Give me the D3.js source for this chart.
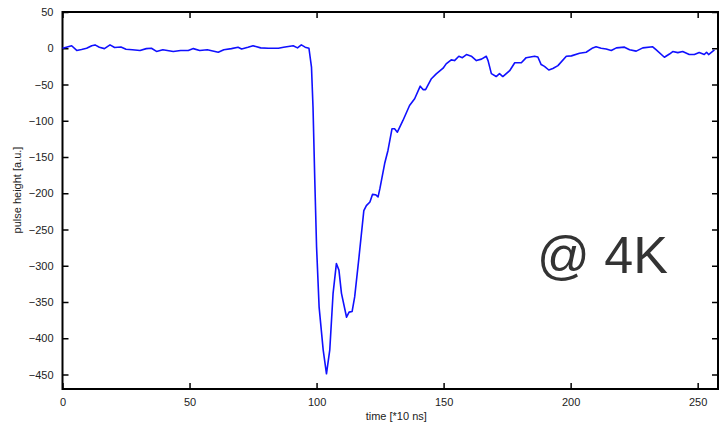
<!DOCTYPE html>
<html>
<head>
<meta charset="utf-8">
<script src="https://cdn.jsdelivr.net/npm/d3@7"></script>
<style>
  body { margin: 0; background: #fff; }
  text { font-family: "Liberation Sans", Arial, sans-serif; }
</style>
</head>
<body>
<div id="chart"></div>
<script>
// data (time in units of 10 ns)
var time = [0, 1.5, 3.6, 5.6, 7.5, 9.5, 11.5, 12.8, 14.5, 16.5, 18.7, 20.5, 23, 25, 27.5, 30.5, 33, 35, 37, 39.5,
  43.6, 46.5, 49.5, 51.5, 54, 57, 61.3, 63.5, 66.5, 69.1, 70.5, 73, 75, 78, 81, 85, 87, 90.8, 92.5, 94,
  95.5, 97, 98, 98.6, 99.3, 100, 101, 102.6, 103.9, 105.2, 106.5, 107.8, 108.8, 109.8, 111.8, 112.8, 114, 115, 116.7, 118.6,
  119.6, 121, 122, 123.2, 124.2, 124.9, 126.8, 128.1, 129.7, 130.7, 131.8, 134, 136.6, 138.6, 140.8, 141.9, 142.9, 145.2, 147.1, 149.8,
  151, 153, 154.3, 156, 157.4, 159, 160.9, 162.9, 164.9, 166.8, 167.5, 168.8, 170.7, 172, 173.3, 176, 178, 180.6, 182.5, 185.8,
  187.1, 188.4, 189.7, 191.4, 193, 195, 198.3, 200.3, 203.5, 206.1, 208.7, 210, 212, 214, 216, 218, 221.2, 223.2, 225.8, 228.4,
  232.3, 233.6, 236.9, 238.9, 240.2, 242.2, 244.1, 246.7, 248.7, 250.6, 252.6, 253.5, 254.3, 256.6]
var pulse = [0, 1.4, 3.5, -3, -1.8, 0, 3.5, 4.6, 1.4, -0.5, 4.6, 1, 1.8, -1.3, -2, -3, -0.5, 0, -4.4, -2,
  -4.4, -3, -3, -0.5, -3, -2, -5.5, -2, -0.5, 1.4, -1, 1.4, 3.5, 0.5, 0, 0, 1.4, 3.5, 0.5, 4.6,
  1.5, 0, -26, -81, -182, -274, -357, -416, -449, -416, -338, -297, -306, -338, -371, -364, -363, -343, -288, -224,
  -217, -212, -201.6, -202, -205, -194, -159, -141, -111, -111, -115.7, -99.6, -79, -69.7, -52.3, -57, -57, -42, -35.3, -27.5,
  -21.5, -16, -17, -11, -13, -8.7, -11, -17, -15, -11, -17, -35, -39, -35, -39, -31, -20, -20, -13, -11,
  -12, -22.5, -25, -30, -28, -24, -11, -10.5, -7, -5.5, 0.5, 2, 0, -1, -3, 0.5, 1.5, -2, -4, 0.5,
  2, -2, -12.4, -8, -4.5, -6, -4.5, -8.7, -8.7, -6, -8.7, -5.5, -8.7, -2.3]

var xTicks = [0, 50, 100, 150, 200, 250]
var yTicks = [50, 0, -50, -100, -150, -200, -250, -300, -350, -400, -450]
var xLabel = "time [*10 ns]"
var yLabel = "pulse height [a.u.]"
var note = "@ 4K"

// layout
const W = 720, H = 425
const margin = {top: 12, right: 2, bottom: 36, left: 62.5},
    width = W - margin.left - margin.right,
    height = H - margin.top - margin.bottom

var svg = d3.select("#chart")
  .append("svg")
    .attr("width", W)
    .attr("height", H)

var g = svg.append("g")
  .attr("transform", "translate(" + margin.left + "," + margin.top + ")")

var x = d3.scaleLinear().domain([0, 258]).range([0, width])
var y = d3.scaleLinear().domain([-470, 50]).range([height, 0])

// inward ticks on all four sides
function styleAxis(sel) {
  sel.select(".domain").remove()
  sel.selectAll(".tick line").attr("stroke", "#000").attr("stroke-width", 1.5)
  sel.selectAll(".tick text").attr("fill", "#222").style("font-size", "11px")
}

g.append("g")
  .attr("transform", "translate(0," + height + ")")
  .call(d3.axisBottom(x).tickValues(xTicks).tickSizeInner(-6).tickSizeOuter(0).tickPadding(9))
  .call(styleAxis)

g.append("g")
  .call(d3.axisTop(x).tickValues(xTicks).tickSizeInner(-6).tickSizeOuter(0).tickFormat(""))
  .call(styleAxis)

g.append("g")
  .call(d3.axisLeft(y).tickValues(yTicks).tickSizeInner(-6).tickSizeOuter(0).tickPadding(9))
  .call(styleAxis)

g.append("g")
  .attr("transform", "translate(" + width + ",0)")
  .call(d3.axisRight(y).tickValues(yTicks).tickSizeInner(-6).tickSizeOuter(0).tickFormat(""))
  .call(styleAxis)

// frame
g.append("rect")
  .attr("width", width)
  .attr("height", height)
  .attr("fill", "none")
  .attr("stroke", "#000")
  .attr("stroke-width", 2)

// trace
var line = d3.line()
  .x(function(d, i) { return x(time[i]) })
  .y(function(d) { return y(d) })

g.append("path")
  .datum(pulse)
  .attr("d", line)
  .attr("fill", "none")
  .attr("stroke", "#1010ff")
  .attr("stroke-width", 1.6)
  .attr("stroke-linejoin", "round")

// labels
svg.append("text")
  .attr("x", margin.left + width / 2 + 6)
  .attr("y", 420)
  .attr("text-anchor", "middle")
  .style("font-size", "11px")
  .attr("fill", "#222")
  .text(xLabel)

svg.append("text")
  .attr("transform", "translate(21,190) rotate(-90)")
  .attr("text-anchor", "middle")
  .style("font-size", "11px")
  .attr("fill", "#222")
  .text(yLabel)

svg.append("text")
  .attr("x", 537)
  .attr("y", 273)
  .style("font-size", "52px")
  .attr("fill", "#333")
  .text(note)
</script>
</body>
</html>
